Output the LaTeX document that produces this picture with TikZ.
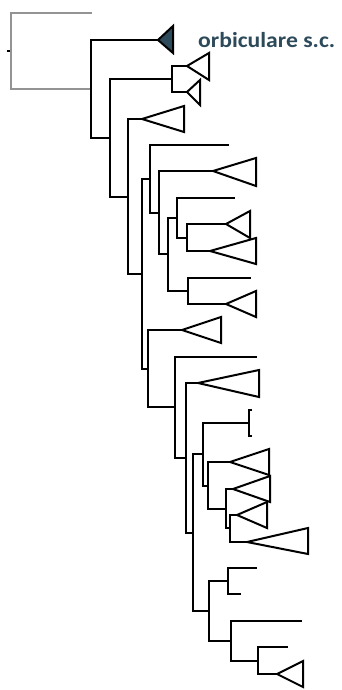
\documentclass[tikz,border=0pt]{standalone}
\usepackage{fontspec}
\newfontfamily\cladefont[FakeStretch=1.1]{Carlito}
\definecolor{orbblue}{HTML}{2D4A5A}
% collapsed clade: tip, base x, base top y, base bottom y
\newcommand{\collapsed}[4]{\draw[tri] (#1) -- (#2,#3) -- (#2,#4) -- cycle;}
\begin{document}
\begin{tikzpicture}[x=1pt,y=-1pt,
	branch/.style={line width=2pt},
	outgroup/.style={line width=1.5pt,gray!85},
	tri/.style={line width=2pt,line join=miter}]
	\useasboundingbox (0,0) rectangle (341,690);
	% outgroup part
	\coordinate (stub) at (7,51);
	\coordinate (r0) at (11,51);
	\coordinate (og) at (92,13);
	\coordinate (n1) at (91,89);
	\draw[line width=1.5pt] (stub) -- (r0);
	\draw[outgroup] (r0) |- (og);
	\draw[outgroup] (r0) |- (n1);
	% internal nodes
	\coordinate (n2) at (110,138);
	\coordinate (n3) at (172,79);
	\coordinate (n4) at (128,197);
	\coordinate (n5) at (142,274);
	\coordinate (n6) at (150,179);
	\coordinate (n7) at (159,213);
	\coordinate (n8) at (168,254);
	\coordinate (n9) at (177,218);
	\coordinate (n10) at (187,238);
	\coordinate (n11) at (188,291);
	\coordinate (n12) at (148,369);
	\coordinate (n13) at (175,407);
	\coordinate (n14) at (186,458);
	\coordinate (n15) at (193,533);
	\coordinate (n16) at (203,454);
	\coordinate (n17) at (249,423);
	\coordinate (n18) at (208,486);
	\coordinate (n19) at (226,509);
	\coordinate (n20) at (230,528);
	\coordinate (n21) at (209,611);
	\coordinate (n22) at (228,581);
	\coordinate (n23) at (231,641);
	\coordinate (n24) at (258,661);
	% leaves and clade tips
	\coordinate (orb) at (158,40);
	\coordinate (c1) at (187,66);
	\coordinate (c2) at (187,92);
	\coordinate (c3) at (142,119);
	\coordinate (l1) at (229,145);
	\coordinate (c4) at (213,171);
	\coordinate (l2) at (235,198);
	\coordinate (c5) at (226,224);
	\coordinate (c6) at (210,251);
	\coordinate (l3) at (251,278);
	\coordinate (c7) at (226,304);
	\coordinate (c8) at (182,330);
	\coordinate (l4) at (257,357);
	\coordinate (c9) at (198,383);
	\coordinate (l5) at (252,410);
	\coordinate (l6) at (252,436);
	\coordinate (c10) at (230,462);
	\coordinate (c11) at (233,489);
	\coordinate (c12) at (237,515);
	\coordinate (c13) at (247,542);
	\coordinate (l7) at (257,568);
	\coordinate (l8) at (241,594);
	\coordinate (l9) at (302,621);
	\coordinate (l10) at (288,647);
	\coordinate (c14) at (277,674);
	% branches
	\foreach \p/\c in {n1/orb,n1/n2,n2/n3,n2/n4,n3/c1,n3/c2,n4/c3,n4/n5,
		n5/n6,n5/n12,n6/l1,n6/n7,n7/c4,n7/n8,n8/n9,n8/n11,n9/l2,n9/n10,
		n10/c5,n10/c6,n11/l3,n11/c7,n12/c8,n12/n13,n13/l4,n13/n14,
		n14/c9,n14/n15,n15/n16,n15/n21,n16/n17,n16/n18,n17/l5,n17/l6,
		n18/c10,n18/n19,n19/c11,n19/n20,n20/c12,n20/c13,n21/n22,n21/n23,
		n22/l7,n22/l8,n23/l9,n23/n24,n24/l10,n24/c14}
		\draw[branch] (\p) |- (\c);
	% collapsed clades
	\draw[tri,fill=orbblue] (orb) -- (173,26) -- (173,53) -- cycle;
	\collapsed{c1}{209}{53}{80}
	\collapsed{c2}{200}{80}{105}
	\collapsed{c3}{184}{106}{132}
	\collapsed{c4}{256}{158}{186}
	\collapsed{c5}{250}{211}{238}
	\collapsed{c6}{256}{238}{264}
	\collapsed{c7}{256}{291}{317}
	\collapsed{c8}{221}{317}{343}
	\collapsed{c9}{259}{370}{397}
	\collapsed{c10}{269}{449}{475}
	\collapsed{c11}{270}{476}{502}
	\collapsed{c12}{267}{502}{528}
	\collapsed{c13}{308}{528}{554}
	\collapsed{c14}{303}{661}{687}
	\node[anchor=base west,inner sep=0pt,text=orbblue,
		font=\cladefont\bfseries\fontsize{21.5}{21.5}\selectfont] (orblabel) at (198,48) {orbiculare s.c.};
\end{tikzpicture}
\end{document}
